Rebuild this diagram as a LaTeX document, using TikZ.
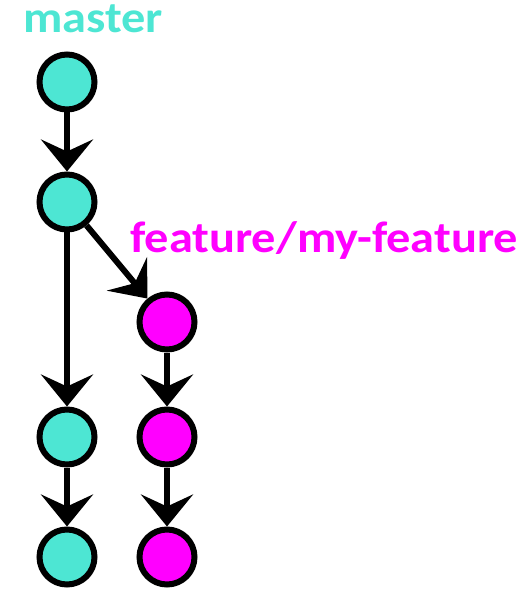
\documentclass[tikz,border=0pt]{standalone}
\usepackage{fontspec}
\setmainfont{Carlito}
\usetikzlibrary{arrows.meta}
\definecolor{tealc}{HTML}{4DE6D3}
\definecolor{magc}{HTML}{FF00FF}
\newcommand{\widetxt}[1]{\scalebox{1.1}[1]{#1}}
\begin{document}
\begin{tikzpicture}[x=1pt,y=-1pt,
  commit/.style={circle,draw=black,line width=6pt,minimum size=55pt,inner sep=0pt},
  tcommit/.style={commit,fill=tealc},
  mcommit/.style={commit,fill=magc},
  edge/.style={line width=6pt,-{Stealth[length=32pt,width=52pt,inset=12pt]}},
  lbl/.style={font=\bfseries\fontsize{44}{44}\selectfont,inner sep=0pt,anchor=base west}]
\useasboundingbox (0,0) rectangle (526,593);
\node[tcommit] (m1) at (67,82) {};
\node[tcommit] (m2) at (67,202) {};
\node[tcommit] (m3) at (67,437) {};
\node[tcommit] (m4) at (67,557) {};
\node[mcommit] (f1) at (167,322) {};
\node[mcommit] (f2) at (167,437) {};
\node[mcommit] (f3) at (167,557) {};
\node[lbl,text=tealc] (lm) at (23,33) {\widetxt{master}};
\node[lbl,text=magc] (lf) at (130,252) {\widetxt{feature/my-feature}};
\draw[edge] (m1) -- (m2);
\draw[edge] (m2) -- (m3);
\draw[edge] (m3) -- (m4);
\draw[edge] (m2) -- (f1);
\draw[edge] (f1) -- (f2);
\draw[edge] (f2) -- (f3);
\end{tikzpicture}
\end{document}
